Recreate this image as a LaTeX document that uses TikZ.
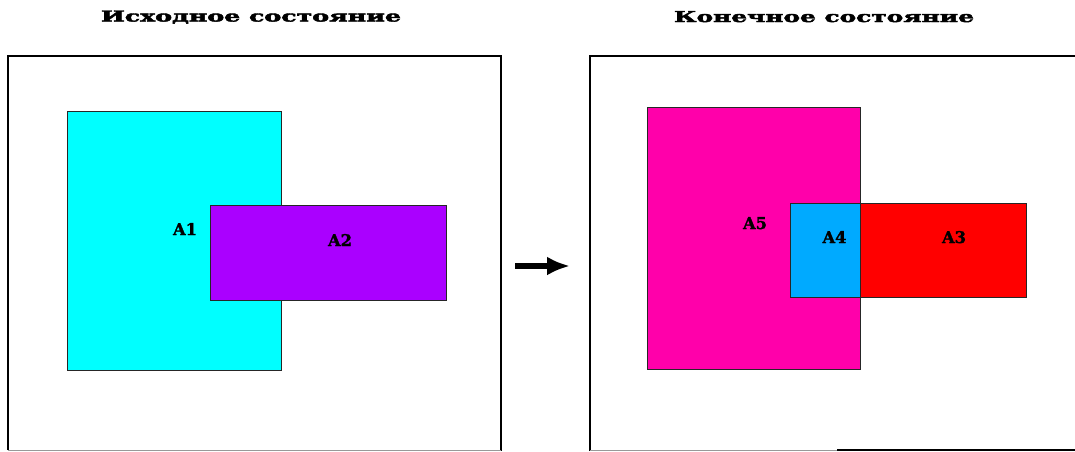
\documentclass[tikz,border=0pt]{standalone}
\usepackage{fontspec}
\setmainfont{DejaVu Serif}
\newfontfamily\heavyfont{DejaVu Serif Bold}[FakeBold=2.5]
\newfontfamily\lblfont{DejaVu Serif Bold}[FakeBold=1.5]
\usetikzlibrary{arrows.meta}
\newcommand{\ttl}[1]{\resizebox{300pt}{11pt}{\heavyfont #1}}
\newcommand{\lab}[1]{\resizebox{24pt}{12pt}{\lblfont #1}}
\begin{document}
\begin{tikzpicture}[x=1pt,y=-1pt,
  frame/.style={draw=black,line width=1.6pt},
  region/.style={draw=black!85,line width=0.9pt},
  title/.style={inner sep=0pt,text depth=0pt},
  lbl/.style={inner sep=0pt,text depth=0pt}]
\useasboundingbox[fill=white] (0,0) rectangle (1075,451);
% titles
\node[title] (t1) at (251,16) {\ttl{Исходное состояние}};
\node[title] (t2) at (824,16.5) {\ttl{Конечное состояние}};
% frames
\draw[frame] (8,450) -- (8,56) -- (501,56) -- (501,451);
\draw[draw=black!40,line width=1pt] (8,450) -- (501,450);
\draw[frame] (590,451) -- (590,56) -- (1076,56);
\draw[draw=black,line width=1.2pt] (837,450) -- (1076,450);
\draw[draw=black!40,line width=1pt] (590,450) -- (837,450);
% left state
\draw[region,fill={rgb,255:red,0;green,255;blue,255}] (67,111) rectangle (281,370);
\draw[region,fill={rgb,255:red,170;green,0;blue,255}] (210,205) rectangle (446,300);
\node[lbl] (a1) at (185,229) {\lab{A1}};
\node[lbl] (a2) at (340,240) {\lab{A2}};
% right state
\draw[region,fill={rgb,255:red,255;green,0;blue,170}] (647,107) rectangle (860,369);
\draw[region,fill={rgb,255:red,0;green,170;blue,255}] (790,203) rectangle (860,297);
\draw[region,fill={rgb,255:red,255;green,0;blue,0}] (860,203) rectangle (1026,297);
\node[lbl] (a5) at (755,223) {\lab{A5}};
\node[lbl] (a4) at (834.5,237) {\lab{A4}};
\node[lbl] (a3) at (954,237) {\lab{A3}};
% arrow
\coordinate (p) at (515,266);
\coordinate (q) at (570,266);
\draw[line width=5.5pt,-{Latex[length=23pt,width=19pt]}] (p) -- (q);
\end{tikzpicture}
\end{document}
